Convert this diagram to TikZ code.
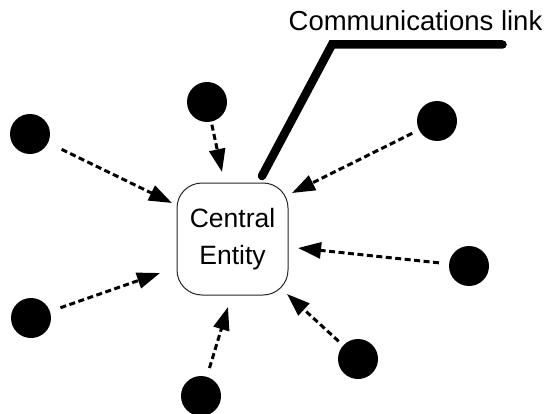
\documentclass[tikz,border=0pt]{standalone}
\usepackage{fontspec}
\setmainfont{Liberation Sans}
\usetikzlibrary{arrows.meta}
\begin{document}
\begin{tikzpicture}[x=1pt,y=-1pt,
  dot/.style={circle,fill=black,minimum size=40pt,inner sep=0pt},
  flow/.style={line width=3pt,dash pattern=on 6pt off 3.5pt,-{Triangle[length=23pt,width=16pt]}},
  hub/.style={draw=black!85,line width=1pt,rounded corners=25pt,minimum width=111pt,minimum height=112pt,align=center,font=\fontsize{26.5}{37}\selectfont,inner sep=0pt},
  link/.style={line width=8.5pt,line cap=round,line join=miter},
  lbl/.style={font=\fontsize{27.5}{30}\selectfont,inner sep=0pt,anchor=base}]
\clip (0,0) rectangle (545,414);
\fill[white] (0,0) rectangle (545,414);

\node[hub] (hub) at (232.5,239) {Central\\Entity};

\node[dot] (d1) at (30,134) {};
\node[dot] (d2) at (207,102) {};
\node[dot] (d3) at (437,121) {};
\node[dot] (d4) at (469,266) {};
\node[dot] (d5) at (358,359) {};
\node[dot] (d6) at (201,396) {};
\node[dot] (d7) at (31,318) {};

\coordinate (t1) at (172,203);
\coordinate (t2) at (222,172);
\coordinate (t3) at (292,193);
\coordinate (t4) at (298,248);
\coordinate (t5) at (287,294);
\coordinate (t6) at (228,307);
\coordinate (t7) at (160,273);

\draw[flow,shorten <=15pt] (d1) -- (t1);
\draw[flow,shorten <=3pt] (d2) -- (t2);
\draw[flow,shorten <=7.5pt] (d3) -- (t3);
\draw[flow,shorten <=10pt] (d4) -- (t4);
\draw[flow,shorten <=6pt] (d5) -- (t5);
\draw[flow,shorten <=9pt] (d6) -- (t6);
\draw[flow,shorten <=11pt] (d7) -- (t7);

\coordinate (l0) at (262,176);
\coordinate (l1) at (332,44.5);
\coordinate (l2) at (502.5,44.5);
\draw[link] (l0) -- (l1) -- (l2);

\node[lbl] (label) at (415.5,31) {Communications link};
\end{tikzpicture}
\end{document}
